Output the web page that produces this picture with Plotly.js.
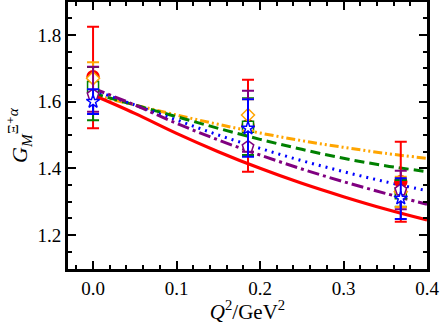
<!DOCTYPE html>
<html>
<head>
<meta charset="utf-8">
<script src="https://cdn.plot.ly/plotly-3.0.1.min.js"></script>
<style>
  html, body { margin: 0; padding: 0; background: #fff; }
  #chart { width: 440px; height: 324px; }
</style>
</head>
<body>
<div id="chart"></div>
<script>
// Curves
const q2 = [0, 0.05, 0.1, 0.15, 0.2, 0.25, 0.3, 0.35, 0.4];
const curveRed    = [1.620, 1.565, 1.505, 1.450, 1.400, 1.355, 1.315, 1.278, 1.245];
const curvePurple = [1.640, 1.590, 1.535, 1.485, 1.440, 1.398, 1.360, 1.325, 1.292];
const curveBlue   = [1.635, 1.590, 1.545, 1.500, 1.460, 1.423, 1.390, 1.360, 1.333];
const curveGreen  = [1.625, 1.590, 1.555, 1.520, 1.487, 1.457, 1.430, 1.408, 1.390];
const curveOrange = [1.620, 1.590, 1.560, 1.532, 1.506, 1.483, 1.463, 1.445, 1.430];

// Data points with error bars
const ptX = [0, 0.1856, 0.3686];
const redY    = [1.675, 1.528, 1.360];
const redUp   = [0.150, 0.138, 0.120];
const redDn   = [0.155, 0.138, 0.120];
const greenY  = [1.644, 1.525, 1.325];
const greenUp = [0.060, 0.085, 0.040];
const greenDn = [0.100, 0.085, 0.040];
const orangeY  = [1.670, 1.560, 1.330];
const orangeUp = [0.048, 0.047, 0.045];
const orangeDn = [0.048, 0.047, 0.046];
const purpleY  = [1.620, 1.465, 1.335];
const purpleUp = [0.085, 0.168, 0.058];
const purpleDn = [0.050, 0.015, 0.058];
const blueY  = [1.600, 1.520, 1.310];
const blueUp = [0.037, 0.087, 0.060];
const blueDn = [0.037, 0.085, 0.062];

function curve(y, col, dash, w) {
    return {
        x: q2, y: y, mode: 'lines', showlegend: false,
        line: {color: col, width: w, dash: dash, shape: 'spline'}
    };
}

function points(y, up, dn, col, sym, size, fill) {
    return {
        x: ptX, y: y, mode: 'markers', showlegend: false,
        marker: {symbol: sym, size: size, color: fill, line: {color: col, width: 1.5}},
        error_y: {type: 'data', symmetric: false, array: up, arrayminus: dn,
                  color: col, thickness: 2, width: 6}
    };
}

const traces = [
    curve(curveOrange, 'orange', '9px,3px,2px,3px,2px,3px', 3),
    curve(curveGreen, 'green', '10px,5px', 3),
    curve(curveBlue, 'blue', '2px,5px', 3),
    curve(curvePurple, 'purple', '12px,4px,3px,4px', 3),
    curve(curveRed, 'red', 'solid', 3.2),
    points(redY, redUp, redDn, 'red', 'circle', 12, 'red'),
    points(greenY, greenUp, greenDn, 'green', 'square', 11, 'white'),
    points(orangeY, orangeUp, orangeDn, 'orange', 'diamond', 10, 'white'),
    points(purpleY, purpleUp, purpleDn, 'purple', 'pentagon', 12, 'white'),
    points(blueY, blueUp, blueDn, 'blue', 'star', 10, 'white')
];

const fnt = {family: 'Liberation Serif, DejaVu Serif, serif', size: 19, color: 'black'};

const layout = {
    width: 440, height: 324,
    margin: {l: 68, r: 13, t: 2, b: 55},
    paper_bgcolor: 'white', plot_bgcolor: 'white',
    font: fnt,
    xaxis: {
        range: [-0.03, 0.4],
        tickvals: [0, 0.1, 0.2, 0.3, 0.4],
        ticktext: ['0.0', '0.1', '0.2', '0.3', '0.4'],
        showgrid: false, zeroline: false,
        showline: true, linewidth: 3, linecolor: 'black', mirror: 'allticks',
        ticks: 'inside', ticklen: 8, tickwidth: 2, tickcolor: 'black',
        minor: {dtick: 0.02, tick0: 0, ticks: 'inside', ticklen: 4, tickwidth: 2, tickcolor: 'black', showgrid: false},
        tickfont: fnt,
        title: {text: '<i>Q</i><sup>2</sup>/GeV<sup>2</sup>', font: {family: fnt.family, size: 21}, standoff: 4}
    },
    yaxis: {
        range: [1.098, 1.899],
        tickvals: [1.2, 1.4, 1.6, 1.8],
        ticktext: ['1.2', '1.4', '1.6', '1.8'],
        showgrid: false, zeroline: false,
        showline: true, linewidth: 3, linecolor: 'black', mirror: 'allticks',
        ticks: 'inside', ticklen: 8, tickwidth: 2, tickcolor: 'black',
        minor: {dtick: 0.05, tick0: 1.2, ticks: 'inside', ticklen: 4, tickwidth: 2, tickcolor: 'black', showgrid: false},
        tickfont: fnt,
        title: {text: '<i>G</i><sub><i>M</i></sub><sup>Ξ⁺<i>α</i></sup>', font: {family: fnt.family, size: 22}, standoff: 4}
    }
};

Plotly.newPlot('chart', traces, layout, {staticPlot: true, displayModeBar: false});
</script>
</body>
</html>
